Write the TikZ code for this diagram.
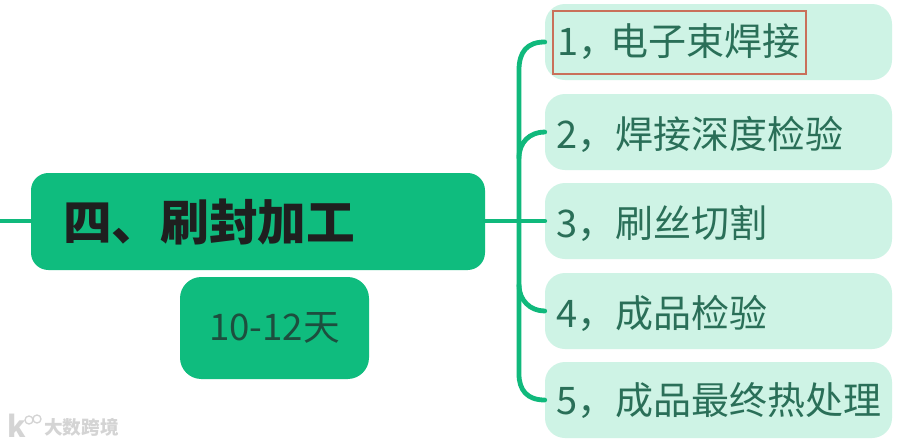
\documentclass[tikz,border=0pt]{standalone}
\usepackage{fontspec}
\setmainfont{Noto Sans CJK SC}
\definecolor{gmain}{HTML}{0FBC7E}
\definecolor{glight}{HTML}{CEF3E5}
\definecolor{gline}{HTML}{10B97C}
\definecolor{gtext}{HTML}{2A6F58}
\definecolor{redbox}{HTML}{C9705A}
\definecolor{wm}{HTML}{D4D4D4}
\tikzset{
  px/.style={x=0.75pt,y=-0.75pt},
  itembox/.style={draw=none,fill=glight,rounded corners=15pt,minimum width=260.25pt,minimum height=57pt,inner sep=0pt},
  itemtext/.style={anchor=west,inner sep=0pt,text=gtext,font=\fontsize{28.5}{30}\selectfont},
  link/.style={draw=gline,line width=3.6pt,line cap=round},
}
\begin{document}
\begin{tikzpicture}[px]
\useasboundingbox (0,0) rectangle (900,444);
\fill[white] (0,0) rectangle (900,444);
% nodes
\node[fill=gmain,rounded corners=13pt,minimum width=340.5pt,minimum height=72.75pt,inner sep=0pt] (main) at (258,221.5) {};
\node[fill=gmain,rounded corners=16pt,minimum width=141.75pt,minimum height=76.5pt,inner sep=0pt] (sub) at (274.5,328) {};
\node[itembox] (b1) at (718.5,42) {};
\node[itembox] (b2) at (718.5,132) {};
\node[itembox] (b3) at (718.5,221) {};
\node[itembox] (b4) at (718.5,311) {};
\node[itembox] (b5) at (718.5,400) {};
\coordinate (stub) at (0,221);
\coordinate (t1) at (519,70);
\coordinate (t5) at (519,374);
\coordinate (t2) at (519,158);
\coordinate (t4) at (519,285);
% connectors
\draw[link] (stub) -- (stub-|main.west);
\draw[link] (main.east|-b3.west) -- (b3.west);
\draw[link] (b1.west) .. controls (527,42) and (519,52) .. (t1) -- (t5) .. controls (519,390) and (527,400) .. (b5.west);
\draw[link] (b2.west) .. controls (530,132) and (519,142) .. (t2);
\draw[link] (b4.west) .. controls (530,311) and (519,300) .. (t4);
% text
\node[anchor=west,inner sep=0pt,font=\fontsize{36.5}{38}\selectfont\bfseries,text=black!88] (mt) at (63,222) {四、刷封加工};
\node[anchor=center,inner sep=0pt,text=gtext!70!black,font=\fontsize{27.5}{29}\selectfont] (st) at (sub.center) {10-12天};
\node[itemtext] (l1) at (557,42) {1，\hspace{-4.5pt}电子束焊接};
\node[itemtext] (l2) at (556,134) {2，焊接深度检验};
\node[itemtext] (l3) at (556,223) {3，刷丝切割};
\node[itemtext] (l4) at (556,313) {4，成品检验};
\node[itemtext] (l5) at (556,401) {5，成品最终热处理};
\node[draw=redbox,line width=1.2pt,minimum width=189.5pt,minimum height=47pt,inner sep=0pt] (red) at (679.5,42.5) {};
% watermark
\node[anchor=west,inner sep=0pt,text=wm,font=\fontsize{14}{16}\selectfont\bfseries] (wt) at (44,427) {大数跨境};
\node[anchor=center,inner sep=0pt,text=wm,font=\fontsize{22}{23}\selectfont\bfseries] (wk) at (17,426) {k};
\node[circle,draw=wm,line width=1pt,minimum size=6pt,inner sep=0pt] (wo1) at (29,420) {};
\node[circle,draw=wm,line width=1pt,minimum size=6pt,inner sep=0pt] (wo2) at (37,419) {};
\end{tikzpicture}
\end{document}
